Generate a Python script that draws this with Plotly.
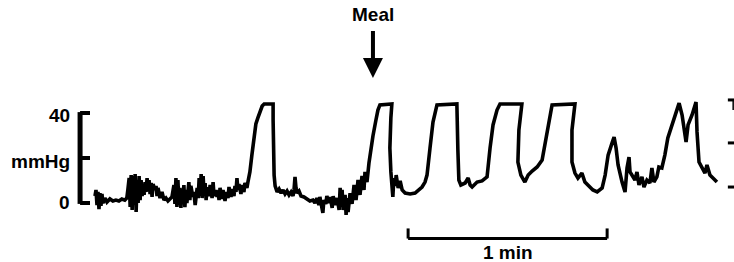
import plotly.graph_objects as go

# ---- Data (time in s, pressure in mmHg) ----
pre_meal_time_s = [
    0.0, 0.3, 0.6, 0.9, 1.2, 1.5, 1.8, 2.1, 2.4, 3.0, 3.6, 4.5, 5.4, 6.3, 7.2, 8.1, 9.0, 9.6,
    9.9, 10.3, 10.6, 10.9, 11.2, 11.5, 11.8, 12.1, 12.4, 12.7, 13.0, 13.3, 13.6, 13.9, 14.2, 14.5,
    14.8, 15.1, 15.4, 15.7, 16.0, 16.3, 16.6, 16.9, 17.2, 17.5, 18.1, 18.4, 18.7, 19.0, 19.6, 20.2,
    20.8, 21.4, 22.0, 22.6, 23.2, 23.8, 24.1, 24.4, 24.7, 25.0, 25.3, 25.6, 25.9, 26.2, 26.5, 26.8,
    27.1, 27.4, 27.7, 28.3, 28.6, 28.9, 29.5, 29.8, 30.2, 30.8, 31.1, 31.4, 31.7, 32.0, 32.3, 32.6,
    32.9, 33.2, 33.5, 33.8, 34.4, 34.7, 35.3, 35.6, 35.9, 36.5, 36.8, 37.1, 37.4, 37.7, 38.3, 38.6,
    39.2, 39.5, 40.1, 40.4, 41.0, 41.3, 41.9, 42.2, 42.5, 42.8, 43.1, 43.4, 44.0, 44.3, 44.9, 45.2,
    45.8, 46.1, 46.7, 47.3, 47.9, 48.5, 49.1, 49.7, 50.4, 51.0, 52.8, 53.7, 53.7, 53.8, 54.0, 54.3,
    54.9, 55.5, 56.1, 56.7, 57.3, 57.9, 58.5, 59.1, 59.7, 60.0, 60.3, 60.6, 60.9, 61.5, 62.1, 63.0,
    63.9, 64.8, 65.7, 66.3, 66.9, 67.5, 67.8, 68.4, 68.7, 69.0, 69.6, 69.9, 70.6, 70.9, 71.5, 71.8,
    72.4, 73.0, 73.6, 73.9, 74.2, 74.5, 74.8, 75.4, 75.7, 76.0, 76.3, 76.9, 77.5, 78.1, 78.7, 79.3,
    79.9, 80.5, 81.1, 81.4, 82.0, 82.6,
]
pre_meal_pressure_mmhg = [
    3.1, 5.8, -0.9, 4.9, -2.7, 4.4, -1.3, 4.0, 0.0, 2.2, 0.4, 1.8, 0.9, 1.3, 0.9, 1.8, 1.3, 2.2,
    5.8, 11.1, -1.8, 12.4, -3.1, 12.0, -0.9, 12.9, -4.0, 10.2, 0.0, 12.0, 1.3, 10.2, 3.1, 8.0,
    3.6, 9.3, 4.9, 11.1, 5.8, 10.2, 4.0, 8.9, 2.7, 8.4, 5.8, 7.6, 3.1, 6.7, 2.2, 4.9,
    1.3, 2.2, 0.9, 1.8, 2.7, 8.0, -0.4, 11.1, -1.8, 10.2, -0.9, 6.7, -2.2, 5.8, 1.3, 8.0,
    -1.8, 5.8, 0.0, 9.3, 1.3, 7.6, 2.7, 4.9, -0.9, 6.7, 2.2, 11.1, 3.1, 12.9, 2.2, 12.0,
    3.6, 8.9, 1.3, 7.1, 3.1, 8.0, 2.2, 9.3, 3.1, 5.8, 2.7, 4.9, 1.3, 6.7, 1.8, 5.8,
    0.9, 4.9, 2.2, 7.1, 2.7, 6.2, 3.1, 7.6, 4.9, 11.1, 5.8, 8.4, 4.0, 8.0, 4.9, 8.9,
    6.7, 9.3, 13.8, 21.3, 30.2, 35.1, 37.8, 40.4, 43.1, 44.0, 44.0, 44.0, 36.9, 23.6, 12.4, 7.6,
    4.9, 6.2, 4.4, 5.8, 4.0, 5.3, 3.6, 4.9, 3.1, 5.8, 11.6, 6.7, 4.4, 5.3, 3.1, 2.7,
    1.8, 0.9, 1.3, 0.0, 2.2, -0.9, 2.7, -1.3, -4.4, 1.3, -0.4, 3.1, 0.0, 2.7, -2.2, 3.1,
    -0.9, 2.2, -3.1, 6.7, -0.9, 5.8, -3.1, 3.6, -5.3, 2.2, -4.0, 4.4, -0.4, 8.0, 1.3, 10.2,
    3.6, 12.0, 5.8, 13.8, 9.3, 17.8,
]
post_meal_time_s = [
    83.2, 83.8, 84.7, 85.3, 85.9, 87.7, 89.5, 89.2, 88.9, 89.2, 89.5, 89.8, 90.1, 90.5, 90.8, 91.4,
    92.0, 92.6, 93.5, 95.0, 96.5, 97.4, 98.6, 99.5, 100.1, 101.0, 101.9, 103.1, 107.0, 109.1, 109.4,
    109.7, 110.3, 111.6, 112.5, 113.1, 113.7, 115.2, 116.7, 118.2, 119.1, 120.0, 121.2, 122.1,
    128.7, 127.8, 127.5, 128.4, 129.6, 130.6, 131.8, 133.3, 134.8, 135.7, 136.9, 137.8, 144.7,
    143.8, 143.8, 144.7, 145.6, 146.8, 147.7, 148.6, 150.1, 151.4, 152.9, 153.8, 154.7, 155.9,
    156.5, 157.1, 157.7, 158.9, 159.8, 160.4, 161.0, 161.3, 162.2, 162.8, 163.4, 164.0, 164.9,
    165.5, 166.4, 167.3, 167.9, 168.5, 169.4, 170.0, 170.9, 171.8, 172.7, 173.9, 174.9, 176.1,
    177.0, 177.6, 178.2, 178.8, 180.0, 181.2, 181.5, 182.1, 183.3, 183.9, 184.5, 185.4, 186.3,
    187.5,
]
post_meal_pressure_mmhg = [
    24.9, 29.8, 36.9, 41.3, 43.6, 44.0, 44.0, 37.8, 24.4, 13.8, 5.8, 2.7, 11.1, 7.6, 12.4, 6.7,
    9.8, 5.8, 4.4, 4.0, 4.4, 5.8, 7.1, 9.3, 12.4, 24.4, 36.0, 43.6, 44.0, 44.0, 23.6,
    10.2, 8.0, 8.9, 11.1, 8.0, 7.1, 9.3, 9.8, 11.6, 24.4, 34.7, 41.3, 44.0,
    44.0, 32.4, 18.2, 12.4, 9.3, 12.4, 14.2, 16.0, 19.1, 27.1, 36.9, 43.6, 44.0,
    32.4, 18.2, 13.3, 11.1, 13.3, 9.3, 8.0, 5.8, 4.9, 6.7, 12.4, 21.3, 26.7,
    29.3, 24.4, 16.9, 9.3, 4.9, 15.6, 20.4, 13.8, 11.6, 10.2, 13.8, 8.0, 11.6,
    7.1, 10.2, 8.9, 15.6, 9.3, 11.6, 16.0, 15.6, 21.3, 28.9, 34.7, 39.1, 44.4,
    39.1, 33.3, 27.1, 34.7, 39.1, 44.9, 31.6, 18.2, 14.7, 13.3, 16.9, 12.4, 11.1,
    9.3,
]

# Annotation values
meal_time_s = 83.8
scale_bar_start_s = 94.4
scale_bar_length_s = 60
pressure_ticks = [0, 20, 40]
pressure_tick_labels = ["0", "mmHg", "40"]

time_s = pre_meal_time_s + post_meal_time_s
pressure = pre_meal_pressure_mmhg + post_meal_pressure_mmhg

FONT = "Liberation Sans, Arial, Helvetica, sans-serif"

fig = go.Figure()
fig.add_trace(go.Scatter(
    x=time_s, y=pressure, mode="lines",
    line=dict(color="black", width=3.6),
    hoverinfo="skip", showlegend=False,
))

shapes = []
# left calibration bracket
bx = -4.5
shapes.append(dict(type="line", x0=bx, x1=bx, y0=-0.4, y1=40.4,
                   line=dict(color="black", width=5)))
for v in pressure_ticks:
    shapes.append(dict(type="line", x0=bx, x1=-1.5, y0=v, y1=v,
                       line=dict(color="black", width=4)))
# right calibration bracket (cut at image edge)
for v in [45.8, 26.7, 7.1]:
    shapes.append(dict(type="line", x0=190.8, x1=192.8, y0=v, y1=v,
                       line=dict(color="black", width=3)))
shapes.append(dict(type="line", x0=192.4, x1=192.4, y0=45.8, y1=41.3,
                   line=dict(color="black", width=1.5)))
# time scale bar
sb0, sb1, sby = scale_bar_start_s, scale_bar_start_s + scale_bar_length_s, -15.8
shapes.append(dict(type="line", x0=sb0, x1=sb1, y0=sby, y1=sby,
                   line=dict(color="black", width=3)))
for xx in (sb0, sb1):
    shapes.append(dict(type="line", x0=xx, x1=xx, y0=sby, y1=-11.3,
                       line=dict(color="black", width=3)))

annotations = []
label_y = {0: 0.2, 20: 18.4, 40: 38.8}
for v, lab in zip(pressure_ticks, pressure_tick_labels):
    annotations.append(dict(x=-6.9, y=label_y[v], xanchor="right", yanchor="middle",
                            text=f"<b>{lab}</b>", showarrow=False,
                            font=dict(family=FONT, size=19, color="black")))
annotations.append(dict(x=meal_time_s, y=55.6, ax=0, ay=-63, axref="pixel", ayref="pixel",
                        text="<b>Meal</b>", showarrow=True, arrowhead=2, arrowsize=1,
                        arrowwidth=4, arrowcolor="black", standoff=0, startstandoff=4,
                        font=dict(family=FONT, size=19, color="black")))
annotations.append(dict(x=scale_bar_start_s + scale_bar_length_s / 2, y=-22.2,
                        text="<b>1 min</b>", showarrow=False, xanchor="center", yanchor="middle",
                        font=dict(family=FONT, size=19, color="black")))

fig.update_layout(
    width=734, height=262,
    margin=dict(l=0, r=0, t=0, b=0),
    paper_bgcolor="white", plot_bgcolor="white",
    xaxis=dict(range=[-28.64, 192.65], visible=False, fixedrange=True),
    yaxis=dict(range=[-26.22, 90.22], visible=False, fixedrange=True),
    shapes=shapes, annotations=annotations,
)

fig.write_html(
    "out.html",
    config={"displayModeBar": False},
    post_script="document.body.style.margin='0px';document.body.style.overflow='hidden';",
)
